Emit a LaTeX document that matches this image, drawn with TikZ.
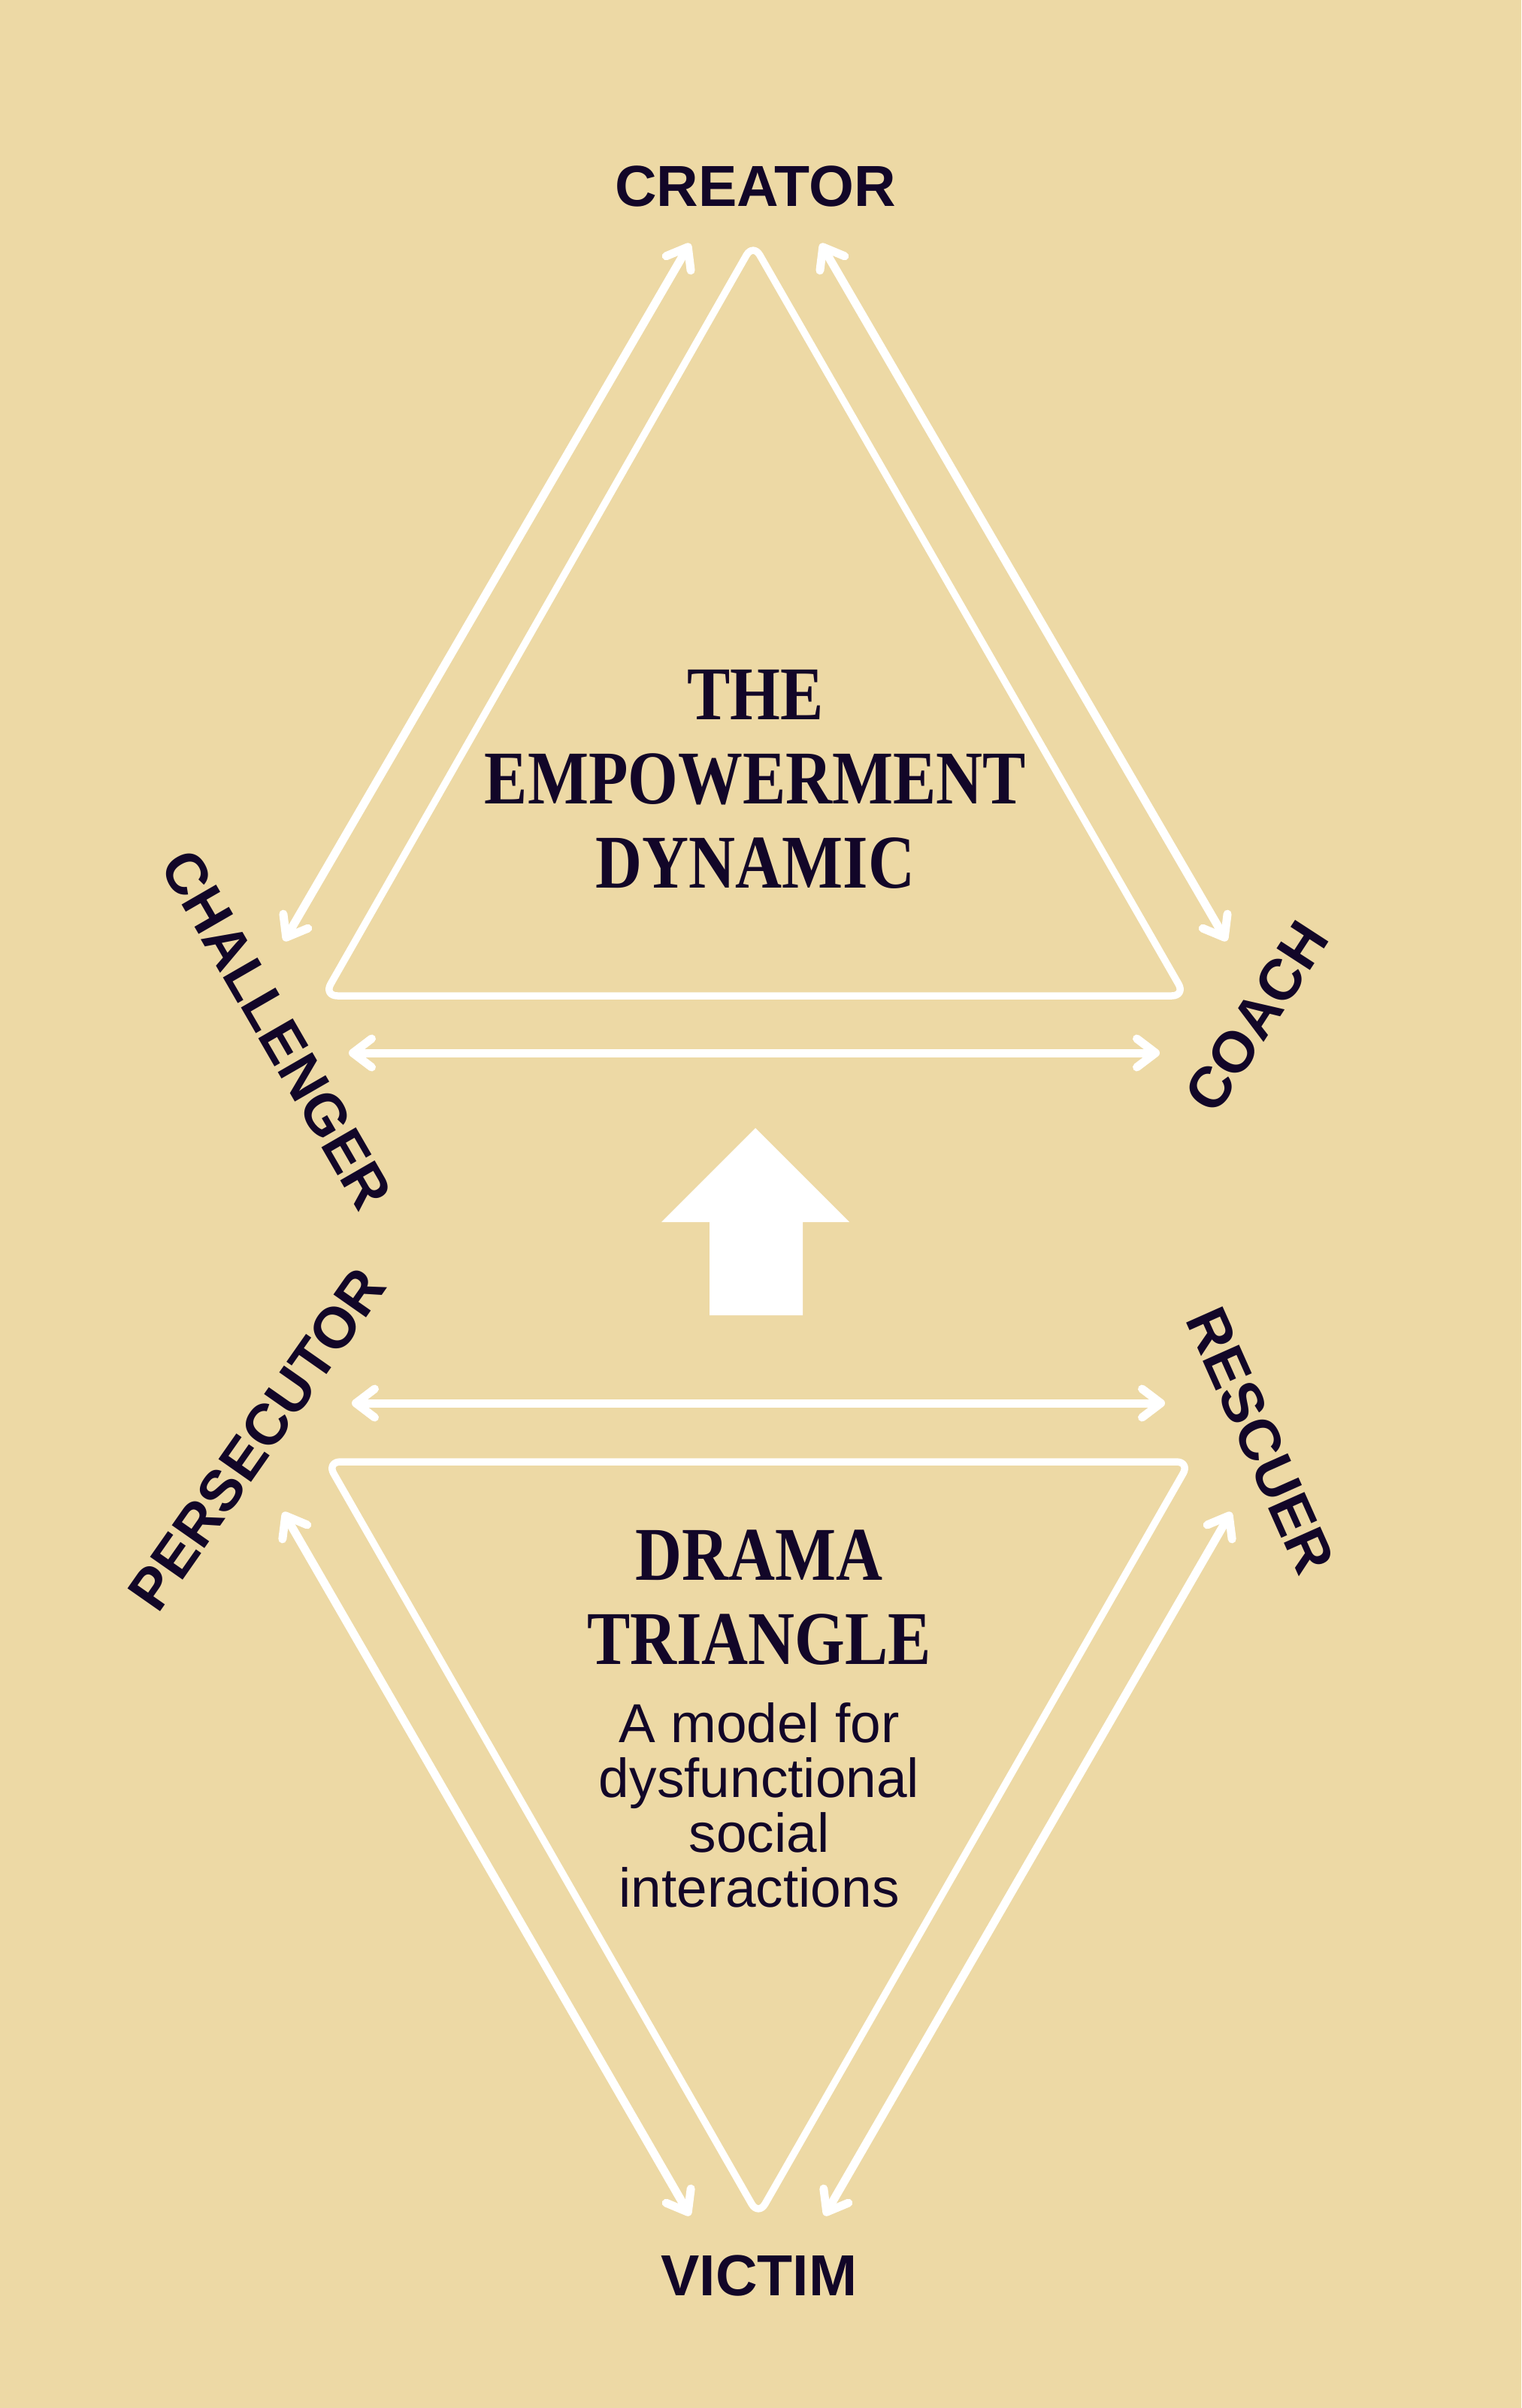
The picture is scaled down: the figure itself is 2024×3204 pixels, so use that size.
\documentclass[tikz,border=0pt]{standalone}
\usepackage{fontspec}
\setmainfont{Liberation Sans}
\newfontfamily\titlefont[FakeStretch=0.85]{Liberation Serif}
\usetikzlibrary{arrows.meta}
\definecolor{sand}{HTML}{EDD9A5}
\definecolor{ink}{HTML}{120628}

\begin{document}
\begin{tikzpicture}[x=0.5pt,y=-0.5pt,
    edge/.style={white,line width=4.75pt,rounded corners=9pt,line join=round},
    link/.style={white,line width=5.5pt,line cap=round,
      {Straight Barb[round,length=12.5pt,width=19pt]}-{Straight Barb[round,length=12.5pt,width=19pt]}},
    role/.style={text=ink,inner sep=0pt,font=\fontsize{38.5}{40}\selectfont\bfseries},
    heading/.style={text=ink,inner sep=0pt,align=center,font=\titlefont\fontsize{50.5}{56}\selectfont\bfseries},
    blurb/.style={text=ink,inner sep=0pt,align=center,font=\fontsize{36.5}{36.5}\selectfont}]
  \fill[sand] (0,0) rectangle (2024,3204);
  \useasboundingbox (0,0) rectangle (2024,3204);

  \coordinate (top) at (1002,324);
  \coordinate (left) at (431,1325);
  \coordinate (right) at (1577,1325);
  \draw[edge] (top) -- (right) -- (left) -- cycle;

  \coordinate (creL) at (918,324);
  \coordinate (creR) at (1092,324);
  \coordinate (chaT) at (378,1252);
  \coordinate (coaT) at (1632,1252);
  \coordinate (chaH) at (464,1401);
  \coordinate (coaH) at (1543,1401);
  \draw[link] (chaT) -- (creL);
  \draw[link] (creR) -- (coaT);
  \draw[link] (chaH) -- (coaH);

  \fill[white] (944,1750) -- (944,1626) -- (880,1626) -- (1005,1501)
    -- (1130,1626) -- (1068,1626) -- (1068,1750) -- cycle;

  \coordinate (bot) at (1009,2948);
  \coordinate (tl) at (435,1945);
  \coordinate (tr) at (1583,1945);
  \draw[edge] (tl) -- (tr) -- (bot) -- cycle;

  \coordinate (perH) at (468,1867);
  \coordinate (resH) at (1550,1867);
  \coordinate (perT) at (377,2012);
  \coordinate (resT) at (1638,2012);
  \coordinate (vicL) at (918,2948);
  \coordinate (vicR) at (1097,2948);
  \draw[link] (perH) -- (resH);
  \draw[link] (perT) -- (vicL);
  \draw[link] (resT) -- (vicR);

  \node[role] (creator) at (1005,248) {CREATOR};
  \node[role,rotate=-60] (challenger) at (368,1370) {CHALLENGER};
  \node[role,rotate=57] (coach) at (1672,1353) {COACH};
  \node[role,rotate=55] (persecutor) at (342,1915) {PERSECUTOR};
  \node[role,rotate=-66] (rescuer) at (1677,1917) {RESCUER};
  \node[role] (victim) at (1010,3028) {VICTIM};

  \node[heading] (empower) at (1005,1037) {THE\\EMPOWERMENT\\DYNAMIC};
  \node[heading] (drama) at (1010,2126) {DRAMA\\TRIANGLE};
  \node[blurb] (model) at (1010,2402) {A model for\\dysfunctional\\social\\interactions};
\end{tikzpicture}
\end{document}
